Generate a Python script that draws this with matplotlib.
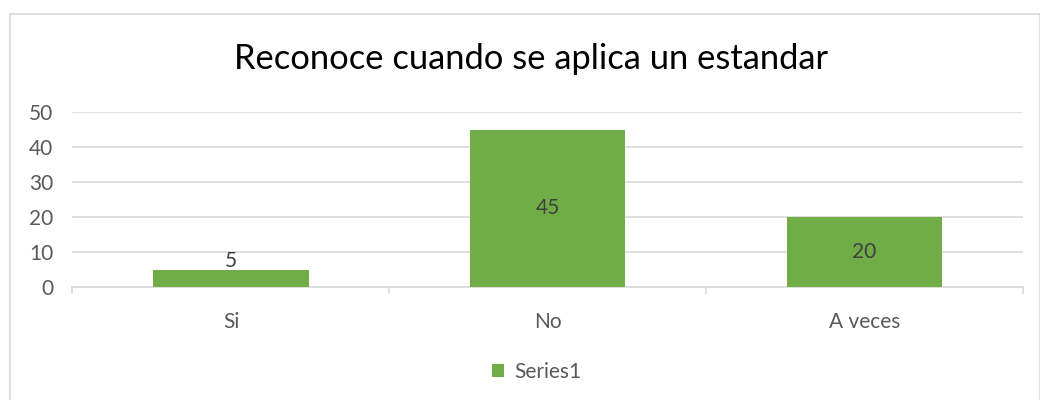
import matplotlib.pyplot as plt
from matplotlib.patches import Rectangle

categories = ["Si", "No", "A veces"]
values = [5, 45, 20]
series_name = "Series1"

green = "#70AD47"
text_gray = "#595959"
grid_gray = "#D9D9D9"

plt.rcParams['font.family'] = ['Lato', 'DejaVu Sans']

fig = plt.figure(figsize=(10.4, 4), dpi=100)
ax = fig.add_axes([0.0697, 0.2825, 0.914, 0.4375])

x = range(len(categories))
bars = ax.bar(x, values, width=0.49, color=green, label=series_name, zorder=3)

for i, v in enumerate(values):
    y = v / 2 if v > 10 else v + 2.5
    ax.text(i, y, str(v), ha="center", va="center", fontsize=15, color="#404040", zorder=4)

ax.set_xlim(-0.5, len(categories) - 0.5)
ax.set_ylim(0, 50)
ax.set_yticks(range(0, 51, 10))
ax.grid(axis="y", color=grid_gray, linewidth=1.2, zorder=0)
ax.set_xticks(list(x))
ax.set_xticklabels(categories)
ax.tick_params(axis="x", length=0, pad=18, labelsize=15, colors=text_gray)
ax.tick_params(axis="y", length=0, pad=14, labelsize=15, colors=text_gray)
# category boundary ticks on the x axis
ax.set_xticks([i - 0.5 for i in range(len(categories) + 1)], minor=True)
ax.tick_params(axis="x", which="minor", length=5, color=grid_gray, width=1.2)

for s in ["top", "right", "left"]:
    ax.spines[s].set_visible(False)
ax.spines["bottom"].set_color(grid_gray)
ax.spines["bottom"].set_linewidth(1.2)

fig.text(0.511, 0.852, "Reconoce cuando se aplica un estandar", ha="center", va="center",
         fontsize=24.8, color="#000000")

fig.legend(handles=[bars], labels=[series_name], loc="center", bbox_to_anchor=(0.516, 0.07),
           frameon=False, fontsize=15, labelcolor=text_gray, handlelength=0.6, handleheight=0.6,
           handletextpad=0.5)

fig.add_artist(Rectangle((0.0096, -0.01), 0.99, 0.975, transform=fig.transFigure,
                         fill=False, edgecolor=grid_gray, linewidth=1.2))

fig.savefig("out.png", dpi=100)
